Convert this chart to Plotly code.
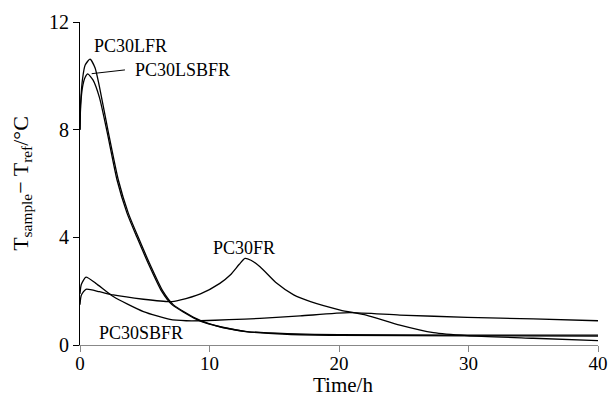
import plotly.graph_objects as go

# PC30LFR
lfr_t = [0, 0.05, 0.2, 0.4, 0.77, 1.16, 1.5, 2.19, 2.96, 3.73, 4.5, 5.4, 6.4, 7.2, 8.9, 9.9, 11.0, 12.9, 16, 20, 30, 40]
lfr_v = [8.0, 9.0, 9.9, 10.4, 10.62, 10.3, 9.6, 7.9, 6.13, 4.9, 4.0, 3.0, 2.0, 1.5, 1.0, 0.8, 0.65, 0.5, 0.4, 0.36, 0.34, 0.33]

# PC30LSBFR
lsbfr_t = [0, 0.05, 0.2, 0.4, 0.6, 1.0, 1.5, 2.1, 2.86, 3.63, 4.4, 5.3, 6.3, 7.1, 8.8, 9.8, 11.0, 12.8, 16, 20, 30, 40]
lsbfr_v = [8.0, 8.9, 9.6, 9.95, 10.07, 9.85, 9.2, 7.9, 6.13, 4.9, 4.0, 3.0, 2.0, 1.5, 1.0, 0.8, 0.66, 0.5, 0.42, 0.38, 0.37, 0.37]

# PC30FR
fr_t = [0, 0.1, 0.46, 1.5, 2.57, 4.9, 6.95, 7.7, 9.3, 10.8, 11.6, 12.3, 12.74, 13.2, 13.9, 15.2, 16.5, 17.8, 20.1, 22.1, 24.7, 27.3, 29.9, 35, 40]
fr_v = [1.5, 1.85, 2.07, 1.98, 1.86, 1.7, 1.61, 1.67, 1.9, 2.29, 2.6, 3.0, 3.22, 3.15, 2.91, 2.29, 1.86, 1.61, 1.3, 1.11, 0.74, 0.46, 0.35, 0.25, 0.16]

# PC30SBFR
sbfr_t = [0, 0.1, 0.46, 1.2, 2.57, 4.9, 6.95, 8.2, 9.3, 11.5, 13.9, 17, 20.8, 24.7, 29.9, 35, 40]
sbfr_v = [1.9, 2.25, 2.52, 2.3, 1.8, 1.24, 0.95, 0.9, 0.9, 0.94, 0.99, 1.08, 1.2, 1.11, 1.03, 0.97, 0.9]

x_ticks = [0, 10, 20, 30, 40]
y_ticks = [0, 4, 8, 12]

FONT = "Liberation Serif"

fig = go.Figure()
for t, v, name in [(lfr_t, lfr_v, "PC30LFR"), (lsbfr_t, lsbfr_v, "PC30LSBFR"),
                   (fr_t, fr_v, "PC30FR"), (sbfr_t, sbfr_v, "PC30SBFR")]:
    fig.add_trace(go.Scatter(x=t, y=v, mode="lines", name=name,
                             line=dict(color="black", width=1.3, shape="spline", smoothing=0.6),
                             showlegend=False, hoverinfo="skip"))

afont = dict(size=18, family=FONT, color="black")
fig.add_annotation(x=3.9, y=11.1, text="PC30LFR", showarrow=False, font=afont)
fig.add_annotation(x=7.9, y=10.2, text="PC30LSBFR", showarrow=False, font=afont)
fig.add_annotation(x=12.65, y=3.6, text="PC30FR", showarrow=False, font=afont)
fig.add_annotation(x=4.7, y=0.45, text="PC30SBFR", showarrow=False, font=afont)
fig.add_shape(type="line", x0=0.9, y0=10.08, x1=3.47, y1=10.22, line=dict(color="black", width=1))

# x-axis title
fig.add_annotation(xref="paper", yref="paper", x=0.507, y=-0.124, text="Time/h", showarrow=False,
                   font=dict(size=21, family=FONT, color="black"), yanchor="middle", borderpad=0)

fig.update_layout(
    width=612, height=399,
    margin=dict(l=80, r=14, t=22, b=54),
    paper_bgcolor="white", plot_bgcolor="white",
    font=dict(family=FONT, color="black", size=19),
    xaxis=dict(range=[0, 40], tickvals=x_ticks, ticks="outside", ticklen=6, tickcolor="#888",
               showline=True, linecolor="#888", linewidth=1.2, showgrid=False, zeroline=False,
               automargin=False, ticklabelstandoff=-5,
               tickfont=dict(size=19, family=FONT)),
    yaxis=dict(range=[0, 12], tickvals=y_ticks, ticks="outside", ticklen=6, tickcolor="black",
               showline=True, linecolor="black", linewidth=1, showgrid=False, zeroline=False,
               automargin=False,
               tickfont=dict(size=20, family=FONT),
               title=dict(text="T<sub>sample</sub>− T<sub>ref</sub>/°C", font=dict(size=22, family=FONT), standoff=14)),
)

fig.write_html("out.html")
